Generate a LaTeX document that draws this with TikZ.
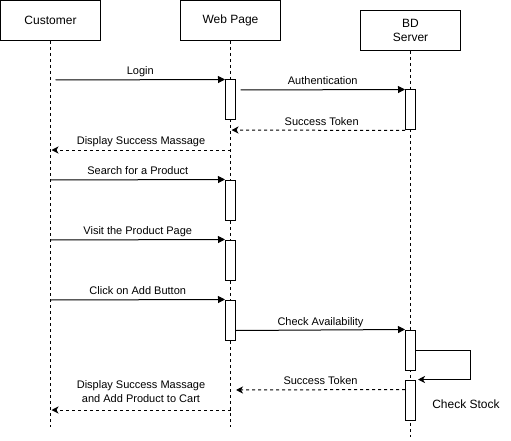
\documentclass[tikz,border=0pt]{standalone}
\usepackage{fontspec}
\setmainfont{Liberation Sans}
\usetikzlibrary{arrows.meta}
\begin{document}
\begin{tikzpicture}[x=1pt,y=-1pt,
  actor/.style={draw, line width=1pt, minimum width=100pt, minimum height=40pt, inner sep=0pt, font=\fontsize{12}{14}\selectfont, align=center},
  life/.style={line width=1pt, dash pattern=on 3pt off 3pt},
  act/.style={draw, fill=white, line width=1pt, minimum width=10pt, minimum height=40pt, inner sep=0pt},
  msg/.style={line width=1pt, -{Triangle[length=7pt,width=7pt]}},
  selfmsg/.style={line width=1pt, -{Stealth[length=7pt,width=7pt,inset=2pt]}},
  ret/.style={line width=1pt, dash pattern=on 3pt off 3pt, -{Stealth[length=7pt,width=7pt,inset=2pt]}},
  lbl/.style={font=\fontsize{11}{14}\selectfont, inner sep=0pt, anchor=base, align=center},
]
\useasboundingbox (0,0) rectangle (511,441);
\fill[white] (0,0) rectangle (511,441);

% actors
\node[actor] (cust) at (50.5,20.5) {Customer};
\node[actor] (web) at (230.5,20.5) {Web Page};
\node[actor] (srv) at (410.5,30.3) {BD\\Server};

% lifelines
\coordinate (cend) at (50.5,427);
\coordinate (wend) at (230.5,427);
\coordinate (send) at (410.5,437);
\draw[life] (cust.south) -- (cend);
\draw[life] (web.south) -- (wend);
\draw[life] (srv.south) -- (send);

% activations
\node[act] (a1) at (230.5,100) {};
\node[act] (a2) at (410.5,110) {};
\node[act] (a3) at (230.5,200) {};
\node[act] (a4) at (230.5,260) {};
\node[act] (a5) at (230.5,320) {};
\node[act] (a6) at (410.5,350) {};
\node[act] (a7) at (410.5,400) {};

% message end points
\coordinate (m1) at (55.5,80);
\coordinate (m2) at (240.5,90);
\coordinate (m3) at (231.5,130);
\coordinate (m4s) at (230.5,150);
\coordinate (m4e) at (51.5,150);
\coordinate (m5) at (50.5,180);
\coordinate (m6) at (50.5,240);
\coordinate (m7) at (50.5,300);
\coordinate (lp) at (470.5,350);
\coordinate (m9) at (236,390);
\coordinate (m10s) at (230.5,410);
\coordinate (m10e) at (51.5,410);

% messages
\draw[msg] (m1) -- (a1.north west) node[lbl, midway, yshift=5pt] {Login};
\draw[msg] (m2) -- (a2.north west) node[lbl, midway, yshift=5pt] {Authentication};
\draw[ret] (a2.south west) -- (m3) node[lbl, pos=0.48, yshift=5pt] {Success Token};
\draw[ret] (m4s) -- (m4e) node[lbl, midway, yshift=5pt] {Display Success Massage};
\draw[msg] (m5) -- (a3.north west) node[lbl, midway, yshift=5pt] {Search for a Product};
\draw[msg] (m6) -- (a4.north west) node[lbl, midway, yshift=5pt] {Visit the Product Page};
\draw[msg] (m7) -- (a5.north west) node[lbl, midway, yshift=5pt] {Click on Add Button};
\draw[msg] ([yshift=10pt]a5.south east) -- (a6.north west) node[lbl, midway, yshift=5pt] {Check Availability};
\draw[selfmsg] (a6.east) -- (lp) |- ([xshift=2pt]a7.north east);
\draw[ret] ([yshift=-10pt]a7.north west) -- (m9) node[lbl, midway, yshift=5pt] {Success Token};
\draw[ret] (m10s) -- (m10e) node[lbl, midway, yshift=8pt] {Display Success Massage\\and Add Product to Cart};

\node[font=\fontsize{12}{14}\selectfont, inner sep=0pt] (cs) at (466,404) {Check Stock};
\end{tikzpicture}
\end{document}
